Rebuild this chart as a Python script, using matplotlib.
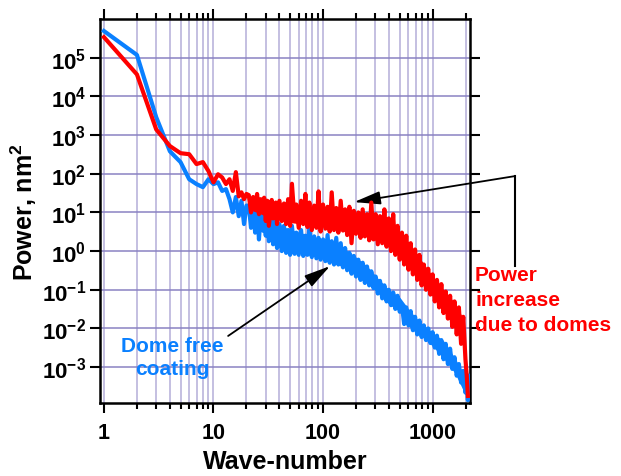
import math
import matplotlib
matplotlib.use("Agg")
import matplotlib.pyplot as plt
from matplotlib.ticker import FixedLocator, NullLocator, LogLocator, FuncFormatter

wave_number = [1, 2, 3, 4, 5, 6, 7, 8, 9, 10,
               11, 12, 13, 14, 15, 16, 17, 18, 19, 20,
               21, 22, 23, 24, 25, 26, 27, 28, 29, 30,
               31, 32, 34, 35, 37, 38, 40, 42, 44, 46,
               48, 50, 52, 55, 57, 60, 63, 66, 69, 72,
               75, 79, 83, 87, 91, 95, 100, 105, 110, 115,
               120, 126, 132, 138, 145, 152, 159, 166, 174, 182,
               191, 200, 210, 220, 230, 241, 252, 264, 276, 289,
               302, 316, 331, 347, 363, 380, 398, 417, 437, 457,
               479, 501, 525, 550, 575, 603, 631, 661, 692, 724,
               759, 794, 832, 871, 912, 955, 1000, 1047, 1096, 1148,
               1202, 1259, 1318, 1380, 1445, 1514, 1585, 1660, 1738, 1820,
               1905, 1995, 2050, 2100, 2150]

# with domes (red)
power_domes = [3.4e5, 3.7e4, 1.4e3, 520, 340, 320, 178, 200, 117, 60,
               97, 80, 54, 72, 36, 110, 26, 33, 22, 30,
               28, 10, 25, 12, 30, 9, 22, 11, 24, 6,
               20, 4.5, 21, 7, 18, 5, 20, 6, 17, 5,
               22, 4.5, 55, 6, 16, 4, 20, 5, 30, 4.2,
               18, 3.5, 15, 4, 35, 3.2, 16, 3.8, 14, 3.2,
               33, 3.5, 13, 3, 20, 3.4, 12, 2.6, 14, 1.6,
               11, 2.8, 10, 2.2, 12, 2.4, 9, 1.9, 18, 2.0,
               9, 1.5, 8, 1.6, 12, 1.3, 7, 1.0, 9, 0.8,
               4.5, 0.6, 3, 0.45, 2.5, 0.33, 1.6, 0.25, 1.1, 0.18,
               0.8, 0.13, 0.45, 0.1, 0.35, 0.075, 0.25, 0.05, 0.18, 0.035,
               0.14, 0.025, 0.09, 0.018, 0.07, 0.011, 0.05, 0.007, 0.035, 0.004,
               0.02, 0.0016, 0.0006, 0.00018]

# dome free coating (blue)
power_free = [4.9e5, 1.18e5, 2.9e3, 380, 200, 72, 54, 45, 72, 54,
              60, 36, 40, 22, 10, 25, 8, 20, 5, 15,
              15, 4, 12, 3, 14, 2, 10, 3.5, 9, 2.5,
              8, 1.8, 7, 1.5, 6, 1.2, 5, 1.0, 4.5, 0.9,
              3.5, 0.8, 4.5, 0.85, 3, 0.8, 3.5, 0.75, 2.5, 0.8,
              4.2, 0.7, 2.4, 0.65, 2.2, 0.6, 2.0, 0.55, 2.6, 0.5,
              1.8, 0.45, 2.2, 0.45, 1.6, 0.38, 1.2, 0.32, 0.9, 0.26,
              0.75, 0.22, 0.6, 0.18, 0.5, 0.15, 0.4, 0.13, 0.3, 0.11,
              0.22, 0.08, 0.17, 0.06, 0.13, 0.05, 0.1, 0.04, 0.085, 0.032,
              0.07, 0.027, 0.04, 0.013, 0.035, 0.012, 0.028, 0.009, 0.02, 0.007,
              0.016, 0.006, 0.012, 0.005, 0.01, 0.0042, 0.008, 0.0032, 0.0065, 0.0022,
              0.005, 0.0016, 0.004, 0.0012, 0.003, 0.0009, 0.0018, 0.0006, 0.0012, 0.0004,
              0.0008, 0.00022, 0.0005, 0.00014, 0.0006]

# solid core of the noisy band (inner edges)
band_k = [21, 25, 30, 40, 50, 63, 80, 100, 126, 160, 200, 250, 316, 400,
          500, 630, 800, 1000, 1260, 1600, 1905]
domes_lo = [12, 10, 8, 6.5, 5.5, 5, 4.5, 4.2, 3.8, 3.2, 3, 2.4, 1.8, 1.4,
            0.75, 0.35, 0.16, 0.075, 0.03, 0.011, 0.005]
domes_hi = [24, 22, 19, 17, 16, 15, 14, 13, 12, 11, 10, 9, 8, 6.5,
            3.2, 1.4, 0.55, 0.22, 0.1, 0.045, 0.018]
free_lo = [4.5, 3.5, 2.8, 1.2, 0.9, 0.85, 0.75, 0.6, 0.5, 0.36, 0.23, 0.15, 0.085, 0.042,
           0.028, 0.01, 0.0062, 0.0035, 0.0017, 0.0007, 0.00025]
free_hi = [12, 11, 8, 5, 3.5, 3, 2.3, 1.9, 1.8, 1.1, 0.7, 0.42, 0.2, 0.1,
           0.065, 0.027, 0.013, 0.0078, 0.0048, 0.0017, 0.0007]

x_ticks = [1, 10, 100, 1000]
y_ticks = [1e-3, 1e-2, 1e-1, 1e0, 1e1, 1e2, 1e3, 1e4, 1e5]

red = "#ff0000"
blue = "#0a80ff"

plt.rcParams['font.family'] = ['Liberation Sans', 'DejaVu Sans']
plt.rcParams['font.weight'] = 'bold'
plt.rcParams['mathtext.fontset'] = 'custom'
plt.rcParams['mathtext.rm'] = 'Liberation Sans:bold'
plt.rcParams['mathtext.bf'] = 'Liberation Sans:bold'
plt.rcParams['mathtext.it'] = 'Liberation Sans:bold:italic'

fig = plt.figure(figsize=(6.21, 4.77), dpi=100)
ax = fig.add_axes([0.161, 0.153, 0.596, 0.805])

ax.fill_between(band_k, free_lo, free_hi, color=blue, lw=0, zorder=2)
ax.plot(wave_number[:len(power_free)], power_free, color=blue, lw=3.0, zorder=3)
ax.fill_between(band_k, domes_lo, domes_hi, color=red, lw=0, zorder=4)
ax.plot(wave_number[:len(power_domes)], power_domes, color=red, lw=3.0, zorder=5)

ax.set_xscale('log')
ax.set_yscale('log')
ax.set_xlim(0.92, 2200)
ax.set_ylim(1.18e-4, 1e6)

ax.xaxis.set_major_locator(FixedLocator(x_ticks))
ax.xaxis.set_minor_locator(LogLocator(base=10, subs=range(2, 10), numticks=20))
ax.xaxis.set_major_formatter(FuncFormatter(lambda v, p: "%d" % v))
ax.yaxis.set_major_locator(FixedLocator(y_ticks))
ax.yaxis.set_minor_locator(NullLocator())
ax.yaxis.set_major_formatter(FuncFormatter(
    lambda v, p: r"$\mathbf{10^{%d}}$" % round(math.log10(v))))

ax.tick_params(which='both', direction='out', top=True, right=True, width=1.5)
ax.tick_params(axis='y', labelsize=16, pad=3)
ax.tick_params(axis='x', labelsize=15.5, pad=7)
ax.tick_params(which='major', length=7)
ax.tick_params(which='minor', length=4.5)

for s in ax.spines.values():
    s.set_linewidth(1.8)

ax.grid(True, axis='x', which='both', color='#b4aed8', lw=1.1, zorder=0)
ax.grid(True, axis='y', which='major', color='#8a82c2', lw=1.1, zorder=0)
ax.set_axisbelow(True)

ax.set_xlabel("Wave-number", fontsize=18, fontweight='bold', labelpad=4)
ax.set_ylabel(r"Power, nm$^{\mathbf{2}}$", fontsize=18, fontweight='bold', labelpad=2)

# bracket and arrows of the annotations
arrow = dict(arrowstyle='-|>,head_length=0.8,head_width=0.2', color='black',
             lw=1.3, mutation_scale=20, shrinkA=0, shrinkB=0)
ax.plot([5665, 5665], [87, 0.41], color='black', lw=1.5, clip_on=False)
ax.annotate("", xy=(192, 18.5), xytext=(5665, 87), annotation_clip=False,
            arrowprops=arrow)
ax.annotate("", xy=(116, 0.41), xytext=(13.6, 0.0064), annotation_clip=False,
            arrowprops=arrow)

fig.text(0.765, 0.442, "Power\nincrease\ndue to domes", color=red, fontsize=15,
         fontweight='bold', ha='left', va='top', linespacing=1.4)
fig.text(0.277, 0.249, "Dome free\ncoating", color=blue, fontsize=15,
         fontweight='bold', ha='center', va='center', linespacing=1.3)

fig.savefig("out.png", dpi=100)
